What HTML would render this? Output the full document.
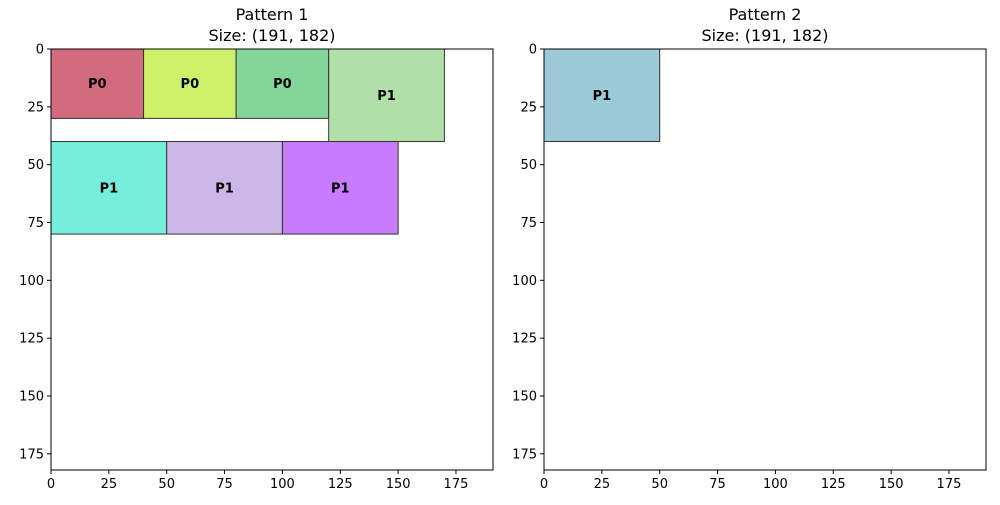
<!DOCTYPE html>
<html><head><meta charset="utf-8"><style>
body{margin:0;background:#fff;font-family:"Liberation Sans","DejaVu Sans",sans-serif}
svg text{font-family:"DejaVu Sans","Liberation Sans",sans-serif}
</style></head><body>
<svg id="chart" width="1000" height="500" viewBox="0 0 1000 500"></svg>
<script>
const sizeW=191, sizeH=182;
const xTicks=[0,25,50,75,100,125,150,175];
const yTicks=[0,25,50,75,100,125,150,175];
const titles=["Pattern 1","Pattern 2"];
const rectsP1X=[0,40,80,120,0,50,100];
const rectsP1Y=[0,0,0,0,40,40,40];
const rectsP1W=[40,40,40,50,50,50,50];
const rectsP1H=[30,30,30,40,40,40,40];
const rectsP1L=["P0","P0","P0","P1","P1","P1","P1"];
const rectsP1C=["#d36a7e","#cdf26a","#83d59a","#b0e0a8","#76eedc","#cdb6e8","#c87bfe"];
const rectsP2X=[0],rectsP2Y=[0],rectsP2W=[50],rectsP2H=[40],rectsP2L=["P1"],rectsP2C=["#9ccad8"];
const NS="http://www.w3.org/2000/svg";
const svg=document.getElementById('chart');
function mk(tag,attrs,parent){const e=document.createElementNS(NS,tag);for(const k in attrs)e.setAttribute(k,attrs[k]);(parent||svg).appendChild(e);return e;}
const panels=[{x0:51,data:[rectsP1X,rectsP1Y,rectsP1W,rectsP1H,rectsP1L,rectsP1C]},{x0:544,data:[rectsP2X,rectsP2Y,rectsP2W,rectsP2H,rectsP2L,rectsP2C]}];
const y0=49,pw=442,ph=421;
panels.forEach((p,pi)=>{
  const sx=v=>p.x0+v*pw/sizeW, sy=v=>y0+v*ph/sizeH;
  const g=mk('g',{});
  
  
  const [X,Y,W,H,L,C]=p.data;
  for(let i=0;i<X.length;i++){
    const r=mk('rect',{x:sx(X[i]),y:sy(Y[i]),width:sx(X[i]+W[i])-sx(X[i]),height:sy(Y[i]+H[i])-sy(Y[i]),fill:C[i],stroke:'#333','stroke-width':1},g);
    
    
    const t=mk('text',{x:sx(X[i]+W[i]/2),y:sy(Y[i]+H[i]/2)+4.5,'text-anchor':'middle','font-size':13,'font-weight':'bold'},g);
    t.textContent=L[i];
    
    
  }
  const fr=mk('rect',{x:p.x0,y:y0,width:pw,height:ph,fill:'none',stroke:'#000','stroke-width':1},g);
  
  
  xTicks.forEach(v=>{
    mk('line',{x1:sx(v),x2:sx(v),y1:y0+ph,y2:y0+ph+4,stroke:'#000'},g);
    const t=mk('text',{x:sx(v),y:y0+ph+18,'text-anchor':'middle','font-size':13},g);
    t.textContent=v;
    
    
  });
  yTicks.forEach(v=>{
    mk('line',{x1:p.x0-4,x2:p.x0,y1:sy(v),y2:sy(v),stroke:'#000'},g);
    const t=mk('text',{x:p.x0-7,y:sy(v)+4.5,'text-anchor':'end','font-size':13},g);
    t.textContent=v;
    
    
  });
  const t1=mk('text',{x:p.x0+pw/2,y:20,'text-anchor':'middle','font-size':16},g);
  t1.textContent=titles[pi];
  
  
  const t2=mk('text',{x:p.x0+pw/2,y:41,'text-anchor':'middle','font-size':16},g);
  t2.textContent='Size: ('+sizeW+', '+sizeH+')';
  
  
});
</script>
</body></html>
